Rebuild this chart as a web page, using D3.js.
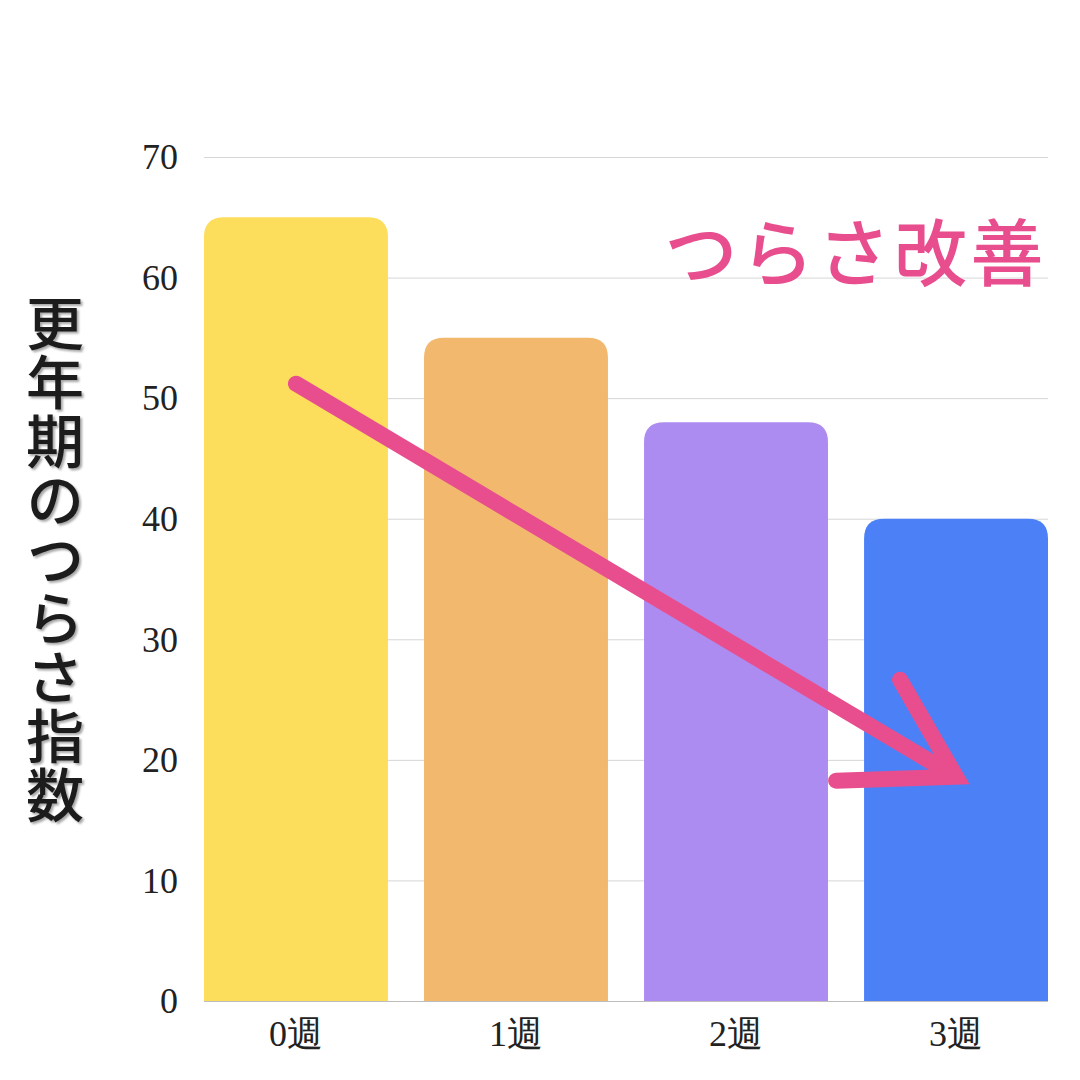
<!DOCTYPE html>
<html lang="ja">
<head>
  <meta charset="utf-8" />
  <title>更年期のつらさ指数</title>
  <script src="https://d3js.org/d3.v7.min.js"></script>
  <style>
    html, body {
      margin: 0;
      padding: 0;
      background: #fff;
      overflow: hidden;
    }
    .tick-label {
      font-family: "Liberation Serif", "DejaVu Serif", serif;
      font-size: 36px;
      fill: #222;
    }
  </style>
</head>
<body>
<script>
/* data */
const weeks = ["0週", "1週", "2週", "3週"];
const scores = [65, 55, 48, 40];
const barColors = ["#FDDD5C", "#F2B86E", "#AD8CF2", "#4C80F7"];
const yTicks = [0, 10, 20, 30, 40, 50, 60, 70];
// arrow annotation: start/end given as [week, value]
const arrowFrom = ["0週", 51.2];
const arrowTo = ["3週", 18.6];

const width = 1080, height = 1080;
const margin = { top: 157, right: 32, bottom: 79, left: 204 };

const svg = d3.select("body").append("svg")
  .attr("width", width)
  .attr("height", height);

const x = d3.scaleBand()
  .domain(weeks)
  .range([margin.left, width - margin.right])
  .paddingInner(0.164)
  .paddingOuter(0);

const y = d3.scaleLinear()
  .domain([0, 70])
  .range([height - margin.bottom, margin.top]);

// gridlines (behind bars)
svg.append("g")
  .selectAll("line")
  .data(yTicks)
  .enter().append("line")
  .attr("x1", margin.left)
  .attr("x2", width - margin.right)
  .attr("y1", d => y(d) + 0.5)
  .attr("y2", d => y(d) + 0.5)
  .attr("stroke", d => d === 0 ? "#bdbdbd" : "#d6d6d6")
  .attr("stroke-width", 1);

// y tick labels
svg.append("g")
  .selectAll("text")
  .data(yTicks)
  .enter().append("text")
  .attr("class", "tick-label")
  .attr("x", 178)
  .attr("y", d => y(d))
  .attr("dy", "0.34em")
  .attr("text-anchor", "end")
  .text(d => d);

// bars with rounded top corners
const r = 20;
function barPath(x0, w, yTop, yBase) {
  return `M${x0},${yBase}V${yTop + r}Q${x0},${yTop} ${x0 + r},${yTop}` +
         `H${x0 + w - r}Q${x0 + w},${yTop} ${x0 + w},${yTop + r}V${yBase}Z`;
}
svg.append("g")
  .selectAll("path")
  .data(weeks)
  .enter().append("path")
  .attr("d", (d, i) => barPath(x(d), x.bandwidth(), y(scores[i]), y(0)))
  .attr("fill", (d, i) => barColors[i]);

// x labels
svg.append("g")
  .selectAll("text")
  .data(weeks)
  .enter().append("text")
  .attr("class", "tick-label")
  .attr("x", d => x(d) + x.bandwidth() / 2)
  .attr("y", 1046)
  .attr("text-anchor", "middle")
  .text(d => d);

// y axis title, vertical
const defs = svg.append("defs");
const shadow = defs.append("filter").attr("id", "shadow")
  .attr("x", "-20%").attr("y", "-20%").attr("width", "140%").attr("height", "140%");
shadow.append("feDropShadow")
  .attr("dx", 2).attr("dy", 2).attr("stdDeviation", 1.2)
  .attr("flood-color", "#000").attr("flood-opacity", 0.35);

svg.append("text")
  .attr("filter", "url(#shadow)")
  .attr("x", 55)
  .attr("y", 294)
  .style("writing-mode", "vertical-rl")
  .style("text-orientation", "upright")
  .style("font-family", "'Noto Sans CJK JP', sans-serif")
  .style("font-weight", 500)
  .style("font-size", "58px")
  .style("letter-spacing", "1px")
  .attr("fill", "#1a1a1a")
  .text("更年期のつらさ指数");

// headline
svg.append("text")
  .attr("x", 1047)
  .attr("y", 280)
  .attr("text-anchor", "end")
  .style("font-family", "'Noto Sans CJK JP', sans-serif")
  .style("font-weight", 500)
  .style("font-size", "73px")
  .style("letter-spacing", "3.5px")
  .attr("fill", "#E84E8E")
  .text("つらさ改善");

// arrow
const pink = "#E84E8E";
const ax0 = x(arrowFrom[0]) + x.bandwidth() / 2, ay0 = y(arrowFrom[1]);
const ax1 = x(arrowTo[0]) + x.bandwidth() / 2, ay1 = y(arrowTo[1]);
const ang = Math.atan2(ay1 - ay0, ax1 - ax0);

svg.append("line")
  .attr("x1", ax0).attr("y1", ay0)
  .attr("x2", ax1 - 14 * Math.cos(ang)).attr("y2", ay1 - 14 * Math.sin(ang))
  .attr("stroke", pink)
  .attr("stroke-width", 16)
  .attr("stroke-linecap", "round");

const upper = { a: ang + 0.51, len: 112 };
const lower = { a: ang - 0.57, len: 120 };
svg.append("path")
  .attr("d", d3.line()([
    [ax1 - upper.len * Math.cos(upper.a), ay1 - upper.len * Math.sin(upper.a)],
    [ax1, ay1],
    [ax1 - lower.len * Math.cos(lower.a), ay1 - lower.len * Math.sin(lower.a)]
  ]))
  .attr("fill", "none")
  .attr("stroke", pink)
  .attr("stroke-width", 16)
  .attr("stroke-linecap", "round")
  .attr("stroke-linejoin", "miter")
  .attr("stroke-miterlimit", 10);
</script>
</body>
</html>
